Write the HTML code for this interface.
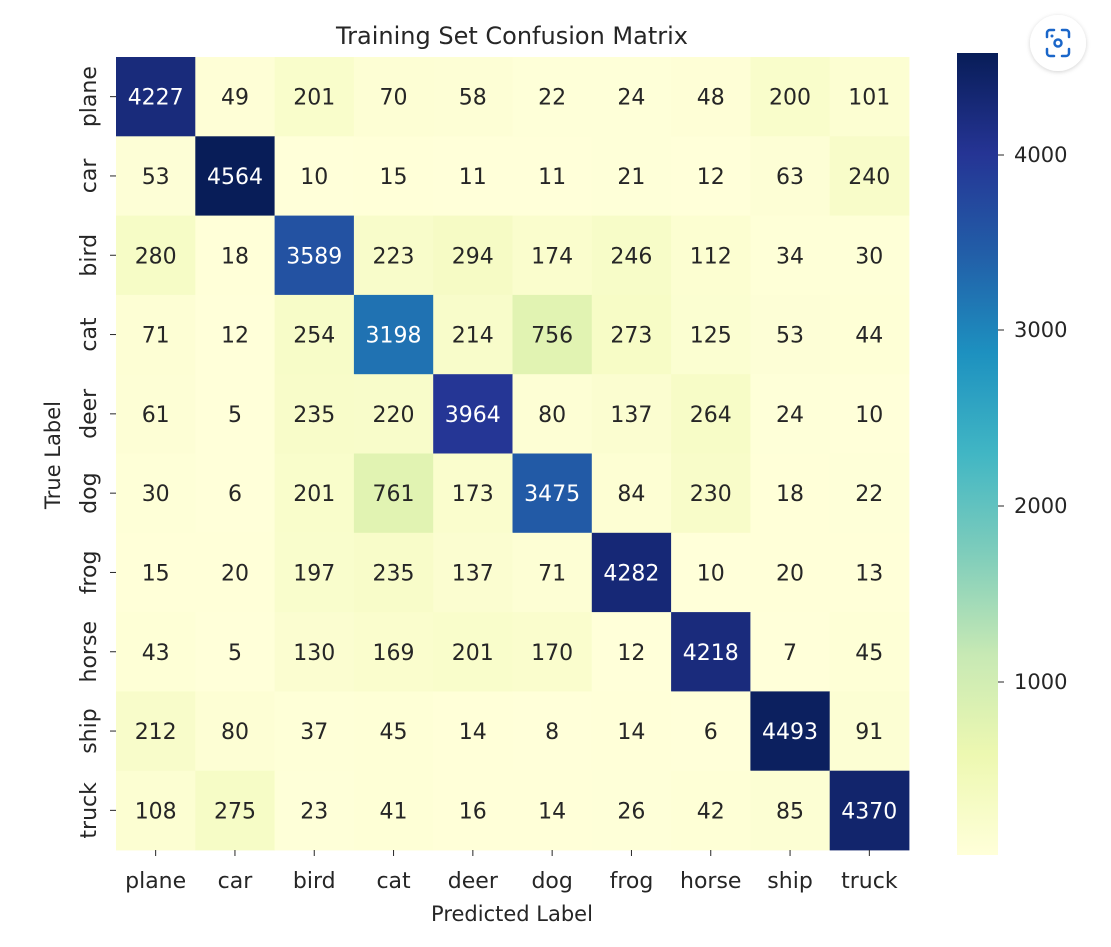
<!DOCTYPE html>
<html><head><meta charset="utf-8">
<style>
html,body{margin:0;padding:0;background:#fff;}
svg{display:block;font-family:"DejaVu Sans","Liberation Sans",sans-serif;}
</style></head>
<body>
<svg id="s" width="1111" height="947" xmlns="http://www.w3.org/2000/svg">
<defs>
<linearGradient id="cb" x1="0" y1="1" x2="0" y2="0">
<stop offset="0" stop-color="#ffffd9"/><stop offset="0.125" stop-color="#edf8b1"/>
<stop offset="0.25" stop-color="#c7e9b4"/><stop offset="0.375" stop-color="#7fcdbb"/>
<stop offset="0.5" stop-color="#41b6c4"/><stop offset="0.625" stop-color="#1d91c0"/>
<stop offset="0.75" stop-color="#225ea8"/><stop offset="0.875" stop-color="#253494"/>
<stop offset="1" stop-color="#081d58"/>
</linearGradient>
<filter id="sh" x="-30%" y="-30%" width="160%" height="160%"><feDropShadow dx="0" dy="1" stdDeviation="2" flood-opacity="0.18"/></filter>
</defs>
<text x="512" y="44" font-size="24" text-anchor="middle" fill="#262626">Training Set Confusion Matrix</text>
<g id="cells"></g>
<rect x="957" y="53" width="41" height="802" fill="url(#cb)"/>
<g font-size="21" fill="#262626" stroke="#262626">
<line x1="998" y1="155" x2="1004" y2="155"/><text x="1014" y="162" stroke="none">4000</text>
<line x1="998" y1="330" x2="1004" y2="330"/><text x="1014" y="337" stroke="none">3000</text>
<line x1="998" y1="506" x2="1004" y2="506"/><text x="1014" y="513" stroke="none">2000</text>
<line x1="998" y1="682" x2="1004" y2="682"/><text x="1014" y="689" stroke="none">1000</text>
</g>
<text x="512" y="921" font-size="21" text-anchor="middle" fill="#262626">Predicted Label</text>
<text transform="translate(60,455) rotate(-90)" font-size="21" text-anchor="middle" fill="#262626">True Label</text>
<circle cx="1058" cy="43" r="28" fill="#fff" filter="url(#sh)"/>
<g stroke="#1a66c9" stroke-width="2.5" fill="none" stroke-linecap="round">
<path d="M1047 37v-4a3 3 0 0 1 3-3h4M1062 30h4a3 3 0 0 1 3 3v4M1069 49v4a3 3 0 0 1-3 3h-4M1054 56h-4a3 3 0 0 1-3-3v-4"/>
<circle cx="1058" cy="43" r="3.5"/>
</g>
<circle cx="1052" cy="36" r="1.5" fill="#1a66c9"/>
</svg>
<script>
var M=[[4227,49,201,70,58,22,24,48,200,101],[53,4564,10,15,11,11,21,12,63,240],[280,18,3589,223,294,174,246,112,34,30],[71,12,254,3198,214,756,273,125,53,44],[61,5,235,220,3964,80,137,264,24,10],[30,6,201,761,173,3475,84,230,18,22],[15,20,197,235,137,71,4282,10,20,13],[43,5,130,169,201,170,12,4218,7,45],[212,80,37,45,14,8,14,6,4493,91],[108,275,23,41,16,14,26,42,85,4370]];
var L=["plane","car","bird","cat","deer","dog","frog","horse","ship","truck"];
var S=["#ffffd9","#edf8b1","#c7e9b4","#7fcdbb","#41b6c4","#1d91c0","#225ea8","#253494","#081d58"].map(function(h){return[parseInt(h.substr(1,2),16),parseInt(h.substr(3,2),16),parseInt(h.substr(5,2),16)];});
function col(v){var t=(v-5)/(4564-5);t=Math.max(0,Math.min(1,t))*8;var i=Math.min(7,Math.floor(t)),f=t-i;var c=[0,1,2].map(function(k){return Math.round(S[i][k]+(S[i+1][k]-S[i][k])*f);});return c;}
function lum(c){var r=c.map(function(x){x/=255;return x<=0.03928?x/12.92:Math.pow((x+0.055)/1.055,2.4);});return 0.2126*r[0]+0.7152*r[1]+0.0722*r[2];}
var x0=116,y0=57,cs=79.3,h="";
for(var i=0;i<10;i++){for(var j=0;j<10;j++){var c=col(M[i][j]);var x=x0+j*cs,y=y0+i*cs;
h+='<rect x="'+x.toFixed(1)+'" y="'+y.toFixed(1)+'" width="'+(cs+0.4).toFixed(1)+'" height="'+(cs+0.4).toFixed(1)+'" fill="rgb('+c+')"/>';
h+='<text x="'+(x+cs/2).toFixed(1)+'" y="'+(y+cs/2+8).toFixed(1)+'" font-size="22" text-anchor="middle" fill="'+(lum(c)>0.408?'#262626':'#ffffff')+'">'+M[i][j]+'</text>';}}
for(var k=0;k<10;k++){var cx=x0+k*cs+cs/2;
h+='<line x1="'+cx+'" y1="850" x2="'+cx+'" y2="856" stroke="#262626"/>';
h+='<text x="'+cx+'" y="888" font-size="22" text-anchor="middle" fill="#262626">'+L[k]+'</text>';
h+='<line x1="110" y1="'+(y0+k*cs+cs/2)+'" x2="116" y2="'+(y0+k*cs+cs/2)+'" stroke="#262626"/>';
h+='<text transform="translate(96,'+(y0+k*cs+cs/2)+') rotate(-90)" font-size="22" text-anchor="middle" fill="#262626">'+L[k]+'</text>';}
document.getElementById("cells").innerHTML=h;
</script>
</body></html>
